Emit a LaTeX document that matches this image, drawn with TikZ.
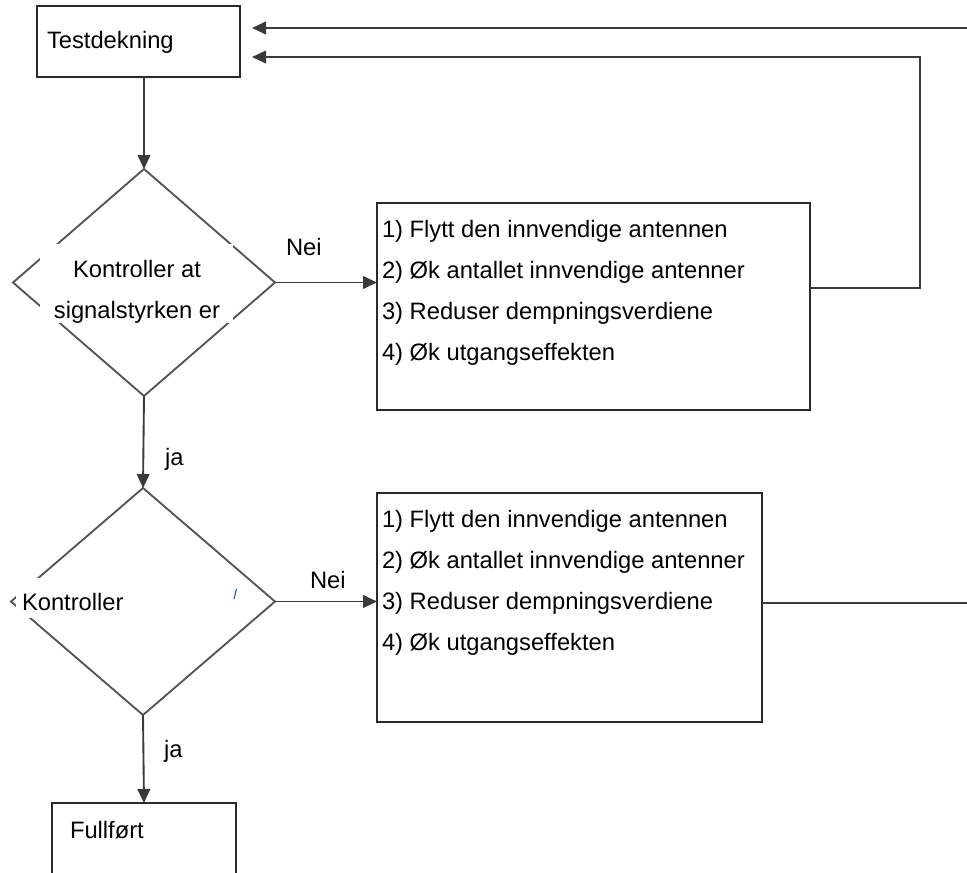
\documentclass[tikz,border=0pt]{standalone}
\usepackage{fontspec}
\setmainfont{Liberation Sans}
\usetikzlibrary{arrows.meta,shapes.geometric}
\definecolor{boxc}{HTML}{2A2A2A}
\definecolor{diac}{HTML}{555555}
\definecolor{linec}{HTML}{3A3A3A}
\definecolor{markc}{HTML}{3050B0}
\begin{document}
\begin{tikzpicture}[x=0.75pt,y=-0.75pt,
  font=\fontsize{17.8}{21}\selectfont,
  boxnode/.style={draw=boxc, line width=1.4pt, rectangle, inner sep=0pt, outer sep=0pt},
  dianode/.style={draw=diac, diamond, line width=1.4pt, inner sep=0pt, outer sep=0pt},
  conn/.style={draw=linec, line width=1.4pt},
  arr/.style={conn, -{Triangle[length=10.5pt,width=9.5pt]}},
  txt/.style={anchor=base west, inner sep=0pt, outer sep=0pt, text=black},
  ctxt/.style={anchor=base, inner sep=0pt, outer sep=0pt, text=black},
  masknode/.style={fill=white, draw=none}]
\useasboundingbox (0,0) rectangle (967,872);
\clip (0,0) rectangle (967,872);
\fill[white] (0,0) rectangle (967,872);

% boxes
\node[boxnode, minimum width=203*0.75pt, minimum height=71*0.75pt] (test) at (138.5,41.5) {};
\node[boxnode, minimum width=433*0.75pt, minimum height=207*0.75pt] (box1) at (593.5,306.5) {};
\node[boxnode, minimum width=385*0.75pt, minimum height=229*0.75pt] (box2) at (569.5,607.5) {};
\node[boxnode, minimum width=184*0.75pt, minimum height=77*0.75pt] (full) at (144,841.5) {};

% diamonds
\node[dianode, minimum width=262*0.75pt, minimum height=227*0.75pt] (d1) at (144,282.5) {};
\node[dianode, minimum width=264*0.75pt, minimum height=227*0.75pt] (d2) at (143,601.5) {};

% white masks over diamond texts
\fill[white] (40,244) rectangle (233,323);
\fill[white] (16,578) rectangle (128,618);
\draw[markc, line width=0.9pt] (234,599) -- (236.5,589);

% texts
\node[txt] (t0) at (47,48) {Testdekning};
\node[ctxt] (t1a) at (137,277) {Kontroller at};
\node[ctxt] (t1b) at (137,318) {signalstyrken er};
\node[txt] (t2) at (22,610) {Kontroller};
\node[txt] (tf) at (70,838) {Fullført};

\node[txt] (b1l1) at (382,237) {1) Flytt den innvendige antennen};
\node[txt] (b1l2) at (382,278) {2) Øk antallet innvendige antenner};
\node[txt] (b1l3) at (382,319) {3) Reduser dempningsverdiene};
\node[txt] (b1l4) at (382,360) {4) Øk utgangseffekten};

\node[txt] (b2l1) at (382,527) {1) Flytt den innvendige antennen};
\node[txt] (b2l2) at (382,568) {2) Øk antallet innvendige antenner};
\node[txt] (b2l3) at (382,609) {3) Reduser dempningsverdiene};
\node[txt] (b2l4) at (382,650) {4) Øk utgangseffekten};

\node[txt] (nei1) at (286,255) {Nei};
\node[txt] (nei2) at (310,588) {Nei};
\node[txt] (ja1) at (165,465) {ja};
\node[txt] (ja2) at (164,757) {ja};

% connectors
\draw[arr] (d1.north |- test.south) -- (d1.north);
\draw[arr] (d1.south) -- (d2.north);
\draw[arr] (d2.south) -- (full.north);
\draw[arr] (d1.east) -- (d1.east -| box1.west);
\draw[arr] (d2.east) -- (d2.east -| box2.west);

\coordinate (fbA) at (920,288);
\coordinate (fbB) at (920,57);
\coordinate (fbC) at (967,28);
\coordinate (fbD) at (967,603);
\draw[arr, shorten >=9pt] (box1.east |- fbA) -- (fbA) -- (fbB) -- (fbB -| test.east);
\draw[arr, shorten >=9pt] (fbC) -- (fbC -| test.east);
\draw[conn] (box2.east |- fbD) -- (fbD);
\end{tikzpicture}
\end{document}
